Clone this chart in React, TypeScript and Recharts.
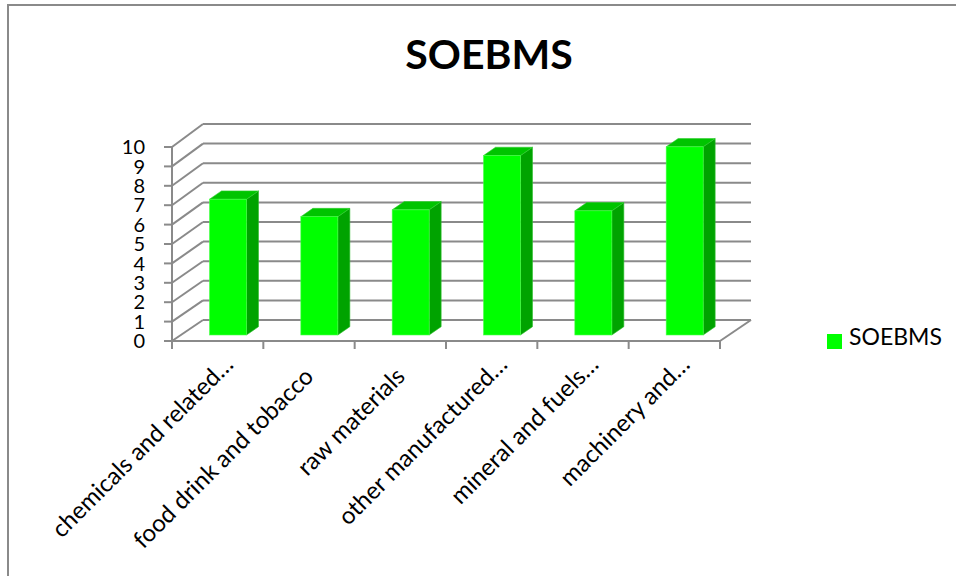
import React from "react";
import { BarChart, Bar, XAxis, YAxis, CartesianGrid, Legend } from "recharts";

const categories = [
  "chemicals and related…",
  "food drink and tobacco",
  "raw materials",
  "other manufactured…",
  "mineral and fuels…",
  "machinery and…",
];
const soebmsValues = [7.0, 6.1, 6.45, 9.25, 6.4, 9.7];
const yTicks = [0, 1, 2, 3, 4, 5, 6, 7, 8, 9, 10];
const seriesName = "SOEBMS";
const titleText = "SOEBMS";

const data = categories.map((name, i) => ({ name, SOEBMS: soebmsValues[i] }));

const FONT = "Lato, 'Open Sans', sans-serif";
const GRID = "#8a8a8a";
const WALL_DX = 31;
const WALL_DY_BOTTOM = -21;
const WALL_DY_TOP = -23;

const gridLine = (props: any) => {
  const { x1, y1, x2, y, height, index } = props;
  const floorY = y + height;
  const t = height ? (floorY - y1) / height : 0;
  const dy = WALL_DY_BOTTOM + (WALL_DY_TOP - WALL_DY_BOTTOM) * t;
  const bx = x1 + WALL_DX;
  const by = y1 + dy;
  const isFloor = Math.abs(y1 - floorY) < 0.5;
  return (
    <g key={`g-${index}`}>
      <line x1={x1} y1={y1} x2={bx} y2={by} stroke={GRID} strokeWidth={2} />
      <line x1={bx} y1={by} x2={x2 + WALL_DX} y2={by} stroke={GRID} strokeWidth={2} />
      {isFloor && (
        <line x1={x2} y1={y1} x2={x2 + WALL_DX} y2={by} stroke={GRID} strokeWidth={2} />
      )}
    </g>
  );
};

const Bar3D = (props: any) => {
  const { x, y, width, height } = props;
  if (height == null || width == null) return null;
  const ox = 10.5;
  const oy = -6;
  const dx = 12;
  const dy = -8.3;
  const fx = x + ox;
  const fy = y + oy;
  const w = width;
  const h = height;
  return (
    <g>
      <polygon
        points={`${fx + w},${fy} ${fx + w + dx},${fy + dy} ${fx + w + dx},${fy + h + dy} ${fx + w},${fy + h}`}
        fill="#00a300"
        stroke="#2fbf2f"
        strokeWidth={0.6}
      />
      <polygon
        points={`${fx},${fy} ${fx + dx},${fy + dy} ${fx + w + dx},${fy + dy} ${fx + w},${fy}`}
        fill="#00c400"
        stroke="#2fcf2f"
        strokeWidth={0.6}
      />
      <rect x={fx} y={fy} width={w} height={h} fill="#00ff00" stroke="#4dff4d" strokeWidth={0.6} />
    </g>
  );
};

const XTick = (props: any) => {
  const { x, y, payload, index, visibleTicksCount, width } = props;
  const half =
    payload && typeof payload.offset === "number" && payload.offset > 0
      ? payload.offset
      : width / visibleTicksCount / 2;
  const label: string = String(payload.value);
  const truncated = label.endsWith("…");
  const ax = x + (truncated ? 17 : 6);
  const ay = y + (truncated ? 25 : 37);
  return (
    <g>
      <line x1={x - half} y1={y} x2={x - half} y2={y + 8} stroke={GRID} strokeWidth={2} />
      {index === visibleTicksCount - 1 && (
        <line x1={x + half} y1={y} x2={x + half} y2={y + 8} stroke={GRID} strokeWidth={2} />
      )}
      <text
        x={ax}
        y={ay}
        textAnchor="end"
        transform={`rotate(-45, ${ax}, ${ay})`}
        fill="#000"
        fontSize={24}
        fontFamily={FONT}
      >
        {label}
      </text>
    </g>
  );
};

export default function App() {
  return (
    <div
      style={{
        position: "absolute",
        left: 0,
        top: 0,
        width: 956,
        height: 576,
        overflow: "hidden",
        background: "#fff",
      }}
    >
      <div
        style={{
          position: "absolute",
          left: 7,
          top: 4,
          width: 1100,
          height: 800,
          border: "2px solid #8a8a8a",
        }}
      />
      <div
        style={{
          position: "absolute",
          left: 0,
          top: 29,
          width: 978,
          textAlign: "center",
          fontFamily: FONT,
          fontWeight: 700,
          fontSize: 41,
          color: "#000",
          whiteSpace: "nowrap",
        }}
      >
        {titleText}
      </div>
      <div style={{ position: "absolute", left: 0, top: 0 }}>
        <BarChart
          width={956}
          height={576}
          data={data}
          margin={{ top: 147, right: 236, left: 112, bottom: 205 }}
        >
          <CartesianGrid vertical={false} horizontal={gridLine} stroke={GRID} />
          <XAxis
            dataKey="name"
            height={30}
            interval={0}
            tickLine={false}
            tickSize={0}
            tickMargin={0}
            axisLine={{ stroke: GRID, strokeWidth: 2 }}
            tick={<XTick />}
          />
          <YAxis
            width={60}
            domain={[0, 10]}
            ticks={yTicks}
            interval={0}
            tickSize={8}
            tickMargin={19}
            axisLine={{ stroke: GRID, strokeWidth: 2 }}
            tickLine={{ stroke: GRID, strokeWidth: 2 }}
            tick={{ fill: "#000", fontSize: 20, fontFamily: FONT }}
          />
          <Legend
            layout="horizontal"
            align="center"
            verticalAlign="middle"
            iconType="square"
            iconSize={15}
            wrapperStyle={{ left: 823, top: 322, width: 133, height: 26, textAlign: "left" }}
            formatter={(value: string) => (
              <span style={{ color: "#000", fontSize: 23, fontFamily: FONT, marginLeft: 3 }}>{value}</span>
            )}
          />
          <Bar
            dataKey="SOEBMS"
            name={seriesName}
            fill="#00ff00"
            barSize={37}
            shape={<Bar3D />}
            isAnimationActive={false}
          />
        </BarChart>
      </div>
    </div>
  );
}
